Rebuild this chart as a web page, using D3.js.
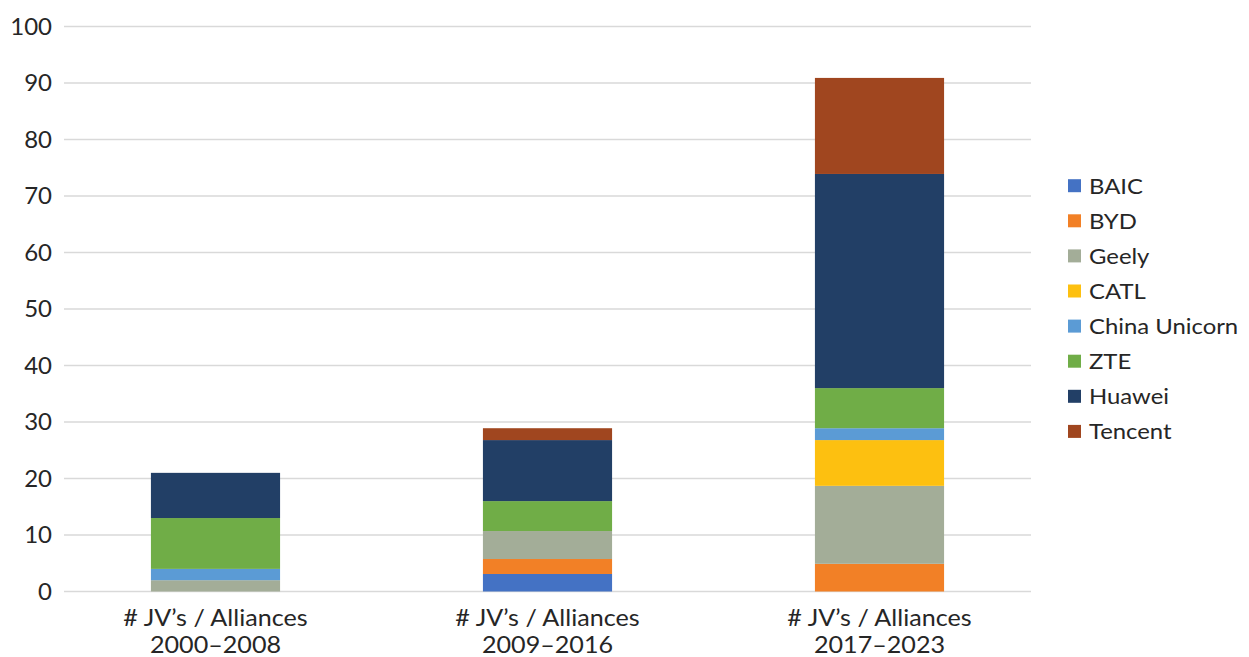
<!DOCTYPE html>
<html>
<head>
<meta charset="utf-8">
<script src="https://cdn.jsdelivr.net/npm/d3@7"></script>
<style>
  body { margin: 0; background: #fff; }
  svg text { font-family: Lato, "Open Sans", sans-serif; fill: #262626; }
</style>
</head>
<body>
<svg id="chart" width="1249" height="657"></svg>
<script>
// data
const categories = ["2000–2008", "2009–2016", "2017–2023"];
const companies = ["BAIC", "BYD", "Geely", "CATL", "China Unicorn", "ZTE", "Huawei", "Tencent"];
const colors = ["#4472c4", "#f28026", "#a3ad98", "#fdc010", "#5b9bd5", "#70ad47", "#223f66", "#a0461f"];
const BAIC    = [0, 3.1, 0];
const BYD     = [0, 2.65, 4.9];
const Geely   = [2, 4.95, 13.8];
const CATL    = [0, 0, 8.1];
const Unicorn = [2, 0, 2.1];
const ZTE     = [9, 5.3, 7.1];
const Huawei  = [8, 10.8, 37.9];
const Tencent = [0, 2.1, 17];
const yTicks = [0, 10, 20, 30, 40, 50, 60, 70, 80, 90, 100];

const seriesValues = [BAIC, BYD, Geely, CATL, Unicorn, ZTE, Huawei, Tencent];

const rows = categories.map((c, i) => {
  let r = {cat: c};
  companies.forEach((k, j) => r[k] = seriesValues[j][i]);
  return r;
});

const svg = d3.select("#chart");

const x = d3.scaleBand()
  .domain(categories)
  .range([49.5, 1045.5])
  .paddingInner(0.611)
  .paddingOuter(0.3055);

const y = d3.scaleLinear().domain([0, 100]).range([591.5, 26.5]);

const color = d3.scaleOrdinal().domain(companies).range(colors);

// gridlines
svg.append("g")
  .selectAll("line")
  .data(yTicks)
  .join("line")
  .attr("x1", 64)
  .attr("x2", 1031)
  .attr("y1", d => y(d))
  .attr("y2", d => y(d))
  .style("stroke", "#d9d9d9")
  .style("stroke-width", 1.5);

// y axis labels
const yAxis = svg.append("g")
  .attr("transform", "translate(52,0)")
  .call(d3.axisLeft(y).tickValues(yTicks).tickSize(0).tickPadding(0));
yAxis.select(".domain").remove();
yAxis.selectAll("text")
  .style("font-size", "24px")
  .style("font-family", "Lato, sans-serif")
  .attr("fill", "#262626");

// stacked bars
const stack = d3.stack().keys(companies)(rows);

svg.append("g")
  .selectAll("g")
  .data(stack)
  .join("g")
  .attr("fill", d => color(d.key))
  .selectAll("rect")
  .data(d => d)
  .join("rect")
  .attr("x", d => x(d.data.cat))
  .attr("width", x.bandwidth())
  .attr("y", d => y(d[1]))
  .attr("height", d => y(d[0]) - y(d[1]));

// category labels (text in the reference is a bit wide, so stretch it)
const catLabels = svg.append("g")
  .selectAll("text")
  .data(categories)
  .join("text")
  .attr("transform", d => `translate(${x(d) + x.bandwidth() / 2},0) scale(1.07,1)`)
  .attr("text-anchor", "middle")
  .style("font-size", "23.5px");

catLabels.append("tspan")
  .attr("x", 0)
  .attr("y", 626)
  .text("# JV’s / Alliances");
catLabels.append("tspan")
  .attr("x", 0)
  .attr("y", 653)
  .text(d => d);

// legend
const legend = svg.append("g")
  .selectAll("g")
  .data(companies)
  .join("g")
  .attr("transform", (d, i) => `translate(1068, ${185.7 + i * 35.1})`);

legend.append("rect")
  .attr("x", 0)
  .attr("y", -6.5)
  .attr("width", 13)
  .attr("height", 13)
  .attr("fill", d => color(d));

legend.append("text")
  .attr("transform", "translate(21,0) scale(1.085,1)")
  .attr("dy", "0.36em")
  .style("font-size", "22px")
  .text(d => d);
</script>
</body>
</html>
